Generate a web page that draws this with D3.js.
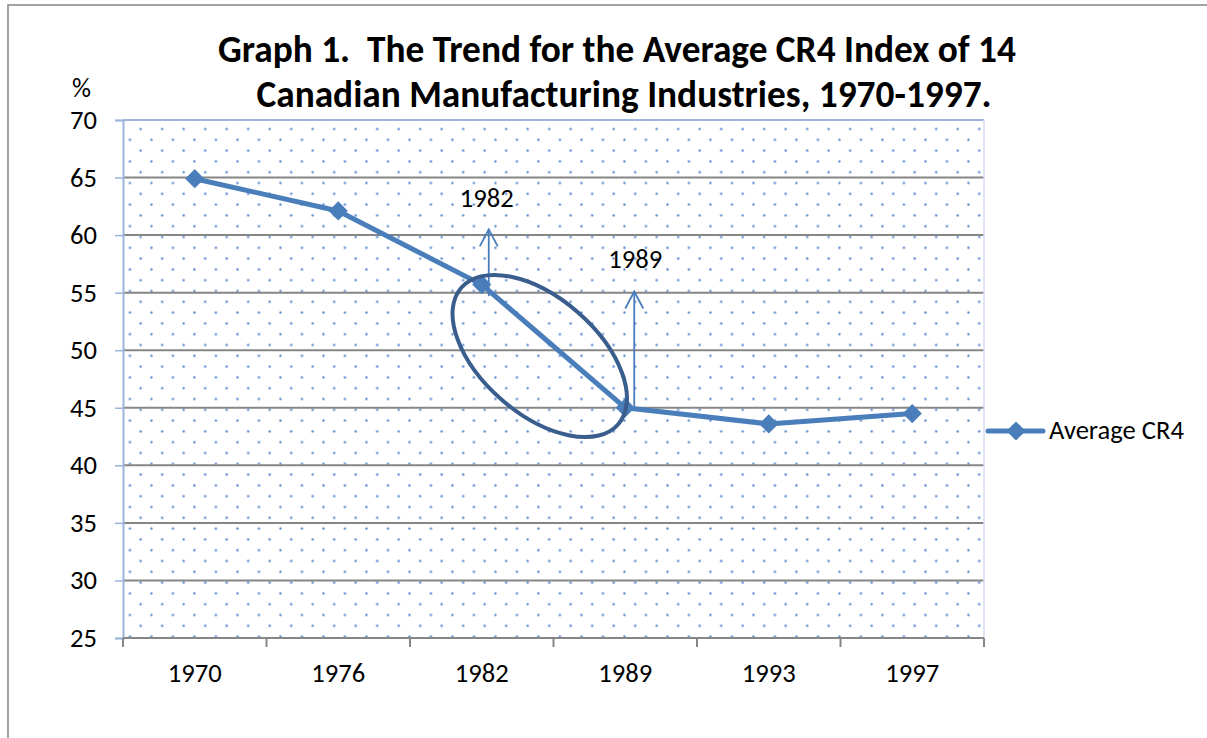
<!DOCTYPE html>
<html>
<head>
<meta charset="utf-8">
<script src="https://cdn.jsdelivr.net/npm/d3@7"></script>
<style>
  body { margin: 0; background: #fff; }
  svg { display: block; }
  text { font-family: Carlito, Calibri, Lato, sans-serif; fill: #000; white-space: pre; }
</style>
</head>
<body>
<script>
// data
var years = ["1970", "1976", "1982", "1989", "1993", "1997"];
var avgCR4 = [64.9, 62.1, 55.7, 45.0, 43.6, 44.5];
var yTicks = [25, 30, 35, 40, 45, 50, 55, 60, 65, 70];
var seriesName = "Average CR4";
var titleLines = ["Graph 1.  The Trend for the Average CR4 Index of 14",
                  "Canadian Manufacturing Industries, 1970-1997."];

var canvasWidth = 1207, canvasHeight = 738;
var plot = {left: 123, right: 984, top: 120, bottom: 638};
var lineBlue = "#4a7ebb", axisBlue = "#9bb5dc", gridGray = "#868686";

var svg = d3.select("body").append("svg")
    .attr("width", canvasWidth)
    .attr("height", canvasHeight);

// find the font size that gives a string a given width
function fitSize(str, weight, width) {
    var t = svg.append("text").attr("font-size", 100).attr("font-weight", weight).text(str);
    var w = t.node().getComputedTextLength();
    t.remove();
    return 100 * width / w;
}
var labelSize = fitSize(seriesName, "normal", 135);
var titleSize = fitSize(titleLines[0], "bold", 798);

// outer chart frame
svg.append("rect")
    .attr("x", 8).attr("y", 5)
    .attr("width", 1210).attr("height", 800)
    .attr("fill", "#fff")
    .attr("stroke", "#8c8c8c")
    .attr("stroke-width", 1.6);

var xScale = d3.scaleBand().domain(years).range([plot.left, plot.right]);
var yScale = d3.scaleLinear().domain([25, 70]).range([plot.bottom, plot.top]);

// dotted fill of the plot area
var defs = svg.append("defs");
var pat = defs.append("pattern")
    .attr("id", "dots")
    .attr("patternUnits", "userSpaceOnUse")
    .attr("x", 135.3).attr("y", 123.6)
    .attr("width", 21.5).attr("height", 21.6);
pat.append("circle").attr("cx", 5.375).attr("cy", 5.4).attr("r", 1.2).attr("fill", "#5a8ad0");
pat.append("circle").attr("cx", 16.125).attr("cy", 16.2).attr("r", 1.2).attr("fill", "#5a8ad0");

svg.append("rect")
    .attr("x", plot.left).attr("y", plot.top)
    .attr("width", plot.right - plot.left)
    .attr("height", plot.bottom - plot.top)
    .attr("fill", "url(#dots)");

// horizontal gridlines
svg.append("g").selectAll("line")
    .data(yTicks.filter(function(d) { return d > 25 && d < 70; }))
    .enter().append("line")
    .attr("x1", plot.left).attr("x2", plot.right)
    .attr("y1", function(d) { return yScale(d); })
    .attr("y2", function(d) { return yScale(d); })
    .attr("stroke", gridGray)
    .attr("stroke-width", 2);

// top and right border of the plot area
svg.append("line")
    .attr("x1", plot.left).attr("x2", plot.right)
    .attr("y1", yScale(70)).attr("y2", yScale(70))
    .attr("stroke", axisBlue).attr("stroke-width", 2);
svg.append("line")
    .attr("x1", plot.right).attr("x2", plot.right)
    .attr("y1", plot.top).attr("y2", plot.bottom)
    .attr("stroke", "#d3def0").attr("stroke-width", 1.5);

// y axis
var yAxis = svg.append("g")
    .attr("transform", "translate(" + plot.left + ",0)")
    .call(d3.axisLeft(yScale).tickValues(yTicks).tickSize(8).tickPadding(18));
yAxis.attr("font-family", null).attr("font-size", null);
yAxis.select(".domain").attr("stroke", axisBlue).attr("stroke-width", 2);
yAxis.selectAll(".tick line").attr("stroke", axisBlue).attr("stroke-width", 1.5);
yAxis.selectAll(".tick text")
    .attr("font-size", labelSize).attr("fill", "#000");

// x axis, ticks sit between the categories
var xAxis = svg.append("g")
    .attr("transform", "translate(0," + plot.bottom + ")")
    .call(d3.axisBottom(xScale).tickSize(0).tickPadding(25));
xAxis.attr("font-family", null).attr("font-size", null);
xAxis.select(".domain").remove();
xAxis.selectAll(".tick text")
    .attr("font-size", labelSize).attr("fill", "#000");
xAxis.append("line")
    .attr("x1", plot.left).attr("x2", plot.right)
    .attr("stroke", gridGray).attr("stroke-width", 2);
xAxis.selectAll(".sep")
    .data(years.concat(["end"]))
    .enter().append("line")
    .attr("class", "sep")
    .attr("x1", function(d, i) { return plot.left + i * xScale.step(); })
    .attr("x2", function(d, i) { return plot.left + i * xScale.step(); })
    .attr("y1", 0).attr("y2", 9)
    .attr("stroke", gridGray).attr("stroke-width", 2);

// "%" unit label
svg.append("text")
    .attr("x", 72).attr("y", 97)
    .attr("font-size", labelSize)
    .text("%");

// the series line and markers
var points = years.map(function(d, i) { return {year: d, value: avgCR4[i]}; });
var line = d3.line()
    .x(function(d) { return xScale(d.year) + xScale.bandwidth() / 2; })
    .y(function(d) { return yScale(d.value); });

svg.append("path")
    .datum(points)
    .attr("d", line)
    .attr("fill", "none")
    .attr("stroke", lineBlue)
    .attr("stroke-width", 5)
    .attr("stroke-linejoin", "round");

var diamond = d3.symbol().type(d3.symbolDiamond2).size(235);
svg.append("g").selectAll("path")
    .data(points)
    .enter().append("path")
    .attr("d", diamond)
    .attr("transform", function(d) {
        return "translate(" + (xScale(d.year) + xScale.bandwidth() / 2) + "," + yScale(d.value) + ")"; })
    .attr("fill", lineBlue);

// annotations: arrows, labels, ellipse
function arrow(x, y0, y1) {
    var g = svg.append("g").attr("stroke", lineBlue).attr("stroke-width", 1.8).attr("fill", "none");
    g.append("line").attr("x1", x).attr("x2", x).attr("y1", y0).attr("y2", y1);
    g.append("path").attr("d", "M" + (x - 9) + "," + (y1 + 17) + "L" + x + "," + y1 + "L" + (x + 9) + "," + (y1 + 17));
}
var x82 = xScale("1982") + xScale.bandwidth() / 2;
var x89 = xScale("1989") + xScale.bandwidth() / 2;
arrow(x82 + 7, yScale(54.7), yScale(60.5));
arrow(x89 + 9, yScale(45.0), yScale(55.1));

svg.append("text").attr("x", x82 - 22).attr("y", yScale(62.4)).attr("font-size", labelSize).text("1982");
svg.append("text").attr("x", x89 - 17).attr("y", yScale(57.1)).attr("font-size", labelSize).text("1989");

svg.append("ellipse")
    .attr("cx", 0).attr("cy", 0)
    .attr("rx", 104).attr("ry", 58)
    .attr("transform", "translate(" + (x82 + 58) + "," + yScale(49.5) + ") rotate(41)")
    .attr("fill", "none")
    .attr("stroke", "#395d8c")
    .attr("stroke-width", 4);

// legend
var lg = svg.append("g").attr("transform", "translate(988,431)");
lg.append("line").attr("x1", 0).attr("x2", 55)
    .attr("stroke", lineBlue).attr("stroke-width", 5).attr("stroke-linecap", "round");
lg.append("path").attr("d", diamond).attr("transform", "translate(28,0)").attr("fill", lineBlue);
lg.append("text").attr("x", 61).attr("y", 8).attr("font-size", labelSize).text(seriesName);

// title, two centred bold lines
svg.append("g").selectAll("text")
    .data(titleLines)
    .enter().append("text")
    .attr("x", function(d, i) { return i ? 624 : 617; })
    .attr("y", function(d, i) { return 62 + i * 45; })
    .attr("text-anchor", "middle")
    .attr("font-size", titleSize)
    .attr("font-weight", "bold")
    .text(function(d) { return d; });
</script>
</body>
</html>
